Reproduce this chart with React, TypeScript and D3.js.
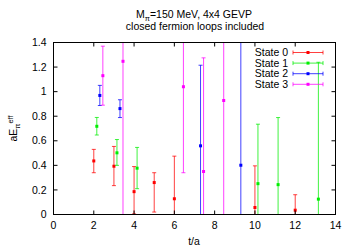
import React from 'react';
import * as d3 from 'd3';

const width = 356;
const height = 249;

const stateNames = ['State 0', 'State 1', 'State 2', 'State 3'];
const stateColors = ['#ff0000', '#00ee00', '#0000ff', '#ff00ff'];
// each state is shifted a little along t so the bars do not overlap
const tOffsets = [0, 0.15, 0.3, 0.45];

// [t, value, lower end, upper end]
const state0 = [
  [2, 0.436, 0.34, 0.53],
  [3, 0.393, 0.235, 0.554],
  [4, 0.186, 0.005, 0.39],
  [5, 0.26, 0.02, 0.34],
  [6, 0.128, -0.2, 0.475],
  [10, 0.057, -0.3, 0.396],
  [12, 0.035, -0.1, 0.161],
];
const state1 = [
  [2, 0.718, 0.647, 0.79],
  [3, 0.502, 0.4, 0.61],
  [4, 0.377, 0.21, 0.546],
  [10, 0.251, -0.2, 0.735],
  [11, 0.243, -0.3, 0.789],
  [13, 0.125, -1, 1.239],
];
const state2 = [
  [2, 0.969, 0.887, 1.051],
  [3, 0.862, 0.789, 0.934],
  [7, 0.559, -0.1, 1.215],
  [9, 0.401, -1, 2],
];
const state3 = [
  [2, 1.13, 0.89, 1.37],
  [3, 1.247, -1, 3],
  [6, 1.04, 0.34, 2],
  [7, 0.35, -0.5, 1.275],
  [8, 0.928, -1, 3],
];
const allStates = [state0, state1, state2, state3];

const xTicks = [0, 2, 4, 6, 8, 10, 12, 14];
const yTicks = [0, 0.2, 0.4, 0.6, 0.8, 1, 1.2, 1.4];

const font = '"Liberation Sans", Arial, sans-serif';

const App = () => {
  const x = d3.scaleLinear().domain([0, 14]).range([53.5, 335.5]);
  const y = d3.scaleLinear().domain([0, 1.4]).range([214.5, 42.5]);
  const [x0, x1] = x.range();
  const [y0, y1] = y.range();
  const cap = 2;
  const ms = 3;

  const legendX = 293;
  const legendW = 30;
  const legendY = 52.5;
  const legendDy = 10.6;

  return (
    <svg
      width={width}
      height={height}
      style={{ position: 'absolute', left: 0, top: 0, background: '#fff' }}
      fontFamily={font}
    >
      <defs>
        <clipPath id="plot">
          <rect x={x0} y={y1} width={x1 - x0} height={y0 - y1} />
        </clipPath>
      </defs>

      {/* title */}
      <text x={194} y={18} textAnchor="middle" fontSize={10.5}>
        M<tspan fontSize={7.5} dy={2.5}>π</tspan>
        <tspan dy={-2.5}>=150 MeV, 4x4 GEVP</tspan>
      </text>
      <text x={195} y={30} textAnchor="middle" fontSize={10.5}>
        closed fermion loops included
      </text>

      {/* data */}
      <g clipPath="url(#plot)">
        {allStates.map((pts, si) =>
          pts.map((p, i) => {
            const cx = x(p[0] + tOffsets[si]);
            const lo = y(p[2]);
            const hi = y(p[3]);
            return (
              <g key={`${si}-${i}`} stroke={stateColors[si]} strokeWidth={1}>
                <line x1={cx} x2={cx} y1={lo} y2={hi} strokeOpacity={0.75} />
                <line x1={cx - cap} x2={cx + cap} y1={lo} y2={lo} strokeOpacity={0.75} />
                <line x1={cx - cap} x2={cx + cap} y1={hi} y2={hi} strokeOpacity={0.75} />
                <rect
                  x={cx - ms / 2}
                  y={y(p[1]) - ms / 2}
                  width={ms}
                  height={ms}
                  fill={stateColors[si]}
                  stroke="none"
                />
              </g>
            );
          })
        )}
      </g>

      {/* ticks, mirrored on all sides */}
      <g stroke="#000" strokeWidth={1}>
        {xTicks.map((t) => (
          <g key={`xt${t}`}>
            <line x1={x(t)} x2={x(t)} y1={y0} y2={y0 - 4} />
            <line x1={x(t)} x2={x(t)} y1={y1} y2={y1 + 4} />
          </g>
        ))}
        {yTicks.map((t) => (
          <g key={`yt${t}`}>
            <line x1={x0} x2={x0 + 4} y1={y(t)} y2={y(t)} />
            <line x1={x1} x2={x1 - 4} y1={y(t)} y2={y(t)} />
          </g>
        ))}
      </g>
      <rect x={x0} y={y1} width={x1 - x0} height={y0 - y1} fill="none" stroke="#000" />

      {/* tick labels */}
      {xTicks.map((t) => (
        <text key={`xl${t}`} x={x(t)} y={228.5} textAnchor="middle" fontSize={10.5}>
          {t}
        </text>
      ))}
      {yTicks.map((t) => (
        <text
          key={`yl${t}`}
          x={46.5}
          y={y(t) + 3.7}
          textAnchor="end"
          fontSize={10.5}
        >
          {d3.format('~g')(t)}
        </text>
      ))}

      {/* axis labels */}
      <text x={194} y={245} textAnchor="middle" fontSize={10.5}>
        t/a
      </text>
      <text
        transform={`translate(17, ${(y0 + y1) / 2}) rotate(-90)`}
        textAnchor="middle"
        fontSize={10.5}
      >
        aE<tspan fontSize={7.5} dy={2.5}>π</tspan>
        <tspan fontSize={7.5} dy={-7}>eff</tspan>
      </text>

      {/* legend */}
      {stateNames.map((name, si) => {
        const ly = legendY + si * legendDy;
        const c = stateColors[si];
        return (
          <g key={name}>
            <text x={288} y={ly + 3.7} textAnchor="end" fontSize={10.5}>
              {name}
            </text>
            <g stroke={c} strokeOpacity={0.75}>
              <line x1={legendX} x2={legendX + legendW} y1={ly} y2={ly} />
              <line x1={legendX} x2={legendX} y1={ly - cap} y2={ly + cap} />
              <line x1={legendX + legendW} x2={legendX + legendW} y1={ly - cap} y2={ly + cap} />
            </g>
            <rect
              x={legendX + legendW / 2 - ms / 2}
              y={ly - ms / 2}
              width={ms}
              height={ms}
              fill={c}
            />
          </g>
        );
      })}
    </svg>
  );
};

export default App;
